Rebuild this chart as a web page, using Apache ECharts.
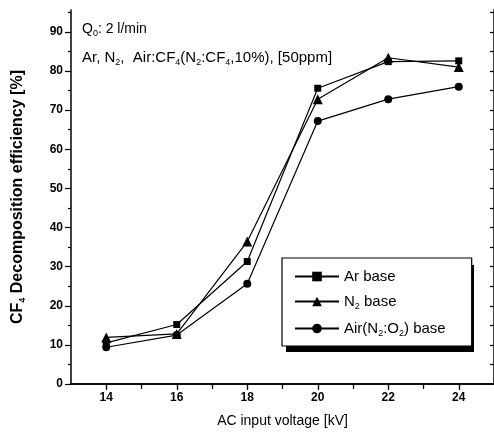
<!DOCTYPE html>
<html>
<head>
<meta charset="utf-8">
<script src="https://cdn.jsdelivr.net/npm/echarts@6/dist/echarts.min.js"></script>
<style>
  html, body { margin: 0; padding: 0; background: #fff; }
  #chart { width: 494px; height: 439px; }
</style>
</head>
<body>
<div id="chart"></div>
<script>
// data
var voltage = [14, 16, 18, 20, 22, 24];
var arBase = [10.5, 15.2, 31.3, 75.6, 82.4, 82.6];
var n2Base = [11.9, 12.8, 36.4, 72.8, 83.4, 81.0];
var airBase = [9.4, 12.5, 25.6, 67.2, 72.8, 76.0];
var xMajor = [14, 16, 18, 20, 22, 24];
var xMinor = [15, 17, 19, 21, 23];
var xTop = [14, 15, 16, 17, 18, 19, 20, 21, 22, 23, 24];
var yMajor = [0, 10, 20, 30, 40, 50, 60, 70, 80, 90];
var yMinor = [5, 15, 25, 35, 45, 55, 65, 75, 85, 95];
var yRight = [5, 10, 15, 20, 25, 30, 35, 40, 45, 50, 55, 60, 65, 70, 75, 80, 85, 90, 95];

var XMIN = 13, XMAX = 25, YMIN = 0, YMAX = 95.6;
var tickFont = 'Liberation Sans Narrow, Liberation Sans, Arial, sans-serif';
var textFont = 'Liberation Sans, Arial, sans-serif';

var chart = echarts.init(document.getElementById('chart'));

function plainAxis(extra) {
    var a = {
        type: 'value', min: XMIN, max: XMAX,
        axisLine: { show: false },
        axisLabel: { show: false },
        splitLine: { show: false },
        axisTick: { show: false }
    };
    for (var k in extra) a[k] = extra[k];
    return a;
}

var subStyle = { fontFamily: textFont, fontSize: 9, color: '#000', verticalAlign: 'bottom', padding: [10, 0, 0, 0] };

var option = {
    backgroundColor: '#fff',
    animation: false,
    grid: { left: 71, top: 10, width: 426, height: 374 },
    xAxis: [
        {
            type: 'value', min: XMIN, max: XMAX, position: 'bottom',
            name: 'AC input voltage [kV]', nameLocation: 'middle', nameGap: 30,
            nameTextStyle: { fontFamily: textFont, fontSize: 14, color: '#000' },
            axisLine: { show: true, lineStyle: { color: '#000', width: 1.5 } },
            axisTick: { show: true, inside: false, length: 6, customValues: xMajor, lineStyle: { color: '#000', width: 1.2 } },
            axisLabel: { customValues: xMajor, color: '#000', fontFamily: tickFont, fontWeight: 'bold', fontSize: 12, margin: 8 },
            splitLine: { show: false }
        },
        plainAxis({
            position: 'bottom',
            axisTick: { show: true, inside: false, length: 3, customValues: xMinor, lineStyle: { color: '#000', width: 1.2 } }
        }),
        plainAxis({
            position: 'top',
            axisLine: { show: true, lineStyle: { color: '#000', width: 1.5 } },
            axisTick: { show: true, inside: true, length: 5, customValues: xTop, lineStyle: { color: '#000', width: 1.2 } }
        })
    ],
    yAxis: [
        {
            type: 'value', min: YMIN, max: YMAX, position: 'left',
            name: 'CF{sub|4} Decomposition efficiency [%]', nameLocation: 'middle', nameGap: 44,
            nameTextStyle: {
                fontFamily: tickFont, fontWeight: 'bold', fontSize: 16, color: '#000',
                rich: { sub: { fontFamily: tickFont, fontWeight: 'bold', fontSize: 9, color: '#000', verticalAlign: 'bottom', padding: [9, 0, 0, 0] } }
            },
            axisLine: { show: true, lineStyle: { color: '#000', width: 1.5 } },
            axisTick: { show: true, inside: false, length: 6, customValues: yMajor, lineStyle: { color: '#000', width: 1.2 } },
            axisLabel: { customValues: yMajor, color: '#000', fontFamily: tickFont, fontWeight: 'bold', fontSize: 12, margin: 8 },
            splitLine: { show: false }
        },
        plainAxis({
            min: YMIN, max: YMAX, position: 'left',
            axisTick: { show: true, inside: false, length: 3, customValues: yMinor, lineStyle: { color: '#000', width: 1.2 } }
        }),
        plainAxis({
            min: YMIN, max: YMAX, position: 'right',
            axisLine: { show: true, lineStyle: { color: '#000', width: 1.5 } },
            axisTick: { show: true, inside: true, length: 4, customValues: yRight, lineStyle: { color: '#000', width: 1.2 } }
        })
    ],
    legend: {
        orient: 'vertical',
        left: 282, top: 258,
        padding: [11, 26, 8, 12],
        itemGap: 10,
        itemWidth: 44, itemHeight: 12,
        backgroundColor: '#fff',
        borderColor: '#000', borderWidth: 1.2, borderRadius: 0,
        data: ['Ar base', 'N2 base', 'Air base'],
        formatter: function (name) {
            if (name === 'N2 base') return 'N{sub|2} base';
            if (name === 'Air base') return 'Air(N{sub|2}:O{sub|2}) base';
            return name;
        },
        textStyle: {
            fontFamily: textFont, fontSize: 15, color: '#000',
            rich: { sub: subStyle }
        }
    },
    graphic: [
        {
            // legend drop shadow
            type: 'rect', left: 286, top: 265, z: 1,
            shape: { width: 188, height: 87 },
            style: { fill: '#000' }
        },
        {
            type: 'text', left: 82, top: 22,
            style: {
                text: 'Q{sub|0}: 2 l/min',
                fontFamily: textFont, fontSize: 14, fill: '#000',
                rich: { sub: subStyle }
            }
        },
        {
            type: 'text', left: 82, top: 50,
            style: {
                text: 'Ar, N{sub|2},  Air:CF{sub|4}(N{sub|2}:CF{sub|4},10%), [50ppm]',
                fontFamily: textFont, fontSize: 15, fill: '#000',
                rich: { sub: subStyle }
            }
        }
    ],
    series: [
        {
            name: 'Ar base', type: 'line',
            data: voltage.map(function (v, i) { return [v, arBase[i]]; }),
            symbol: 'rect', symbolSize: 7,
            lineStyle: { color: '#000', width: 1.2 },
            itemStyle: { color: '#000' }
        },
        {
            name: 'N2 base', type: 'line',
            data: voltage.map(function (v, i) { return [v, n2Base[i]]; }),
            symbol: 'triangle', symbolSize: 10,
            lineStyle: { color: '#000', width: 1.2 },
            itemStyle: { color: '#000' }
        },
        {
            name: 'Air base', type: 'line',
            data: voltage.map(function (v, i) { return [v, airBase[i]]; }),
            symbol: 'circle', symbolSize: 8,
            lineStyle: { color: '#000', width: 1.2 },
            itemStyle: { color: '#000' }
        }
    ]
};

chart.setOption(option);
</script>
</body>
</html>
